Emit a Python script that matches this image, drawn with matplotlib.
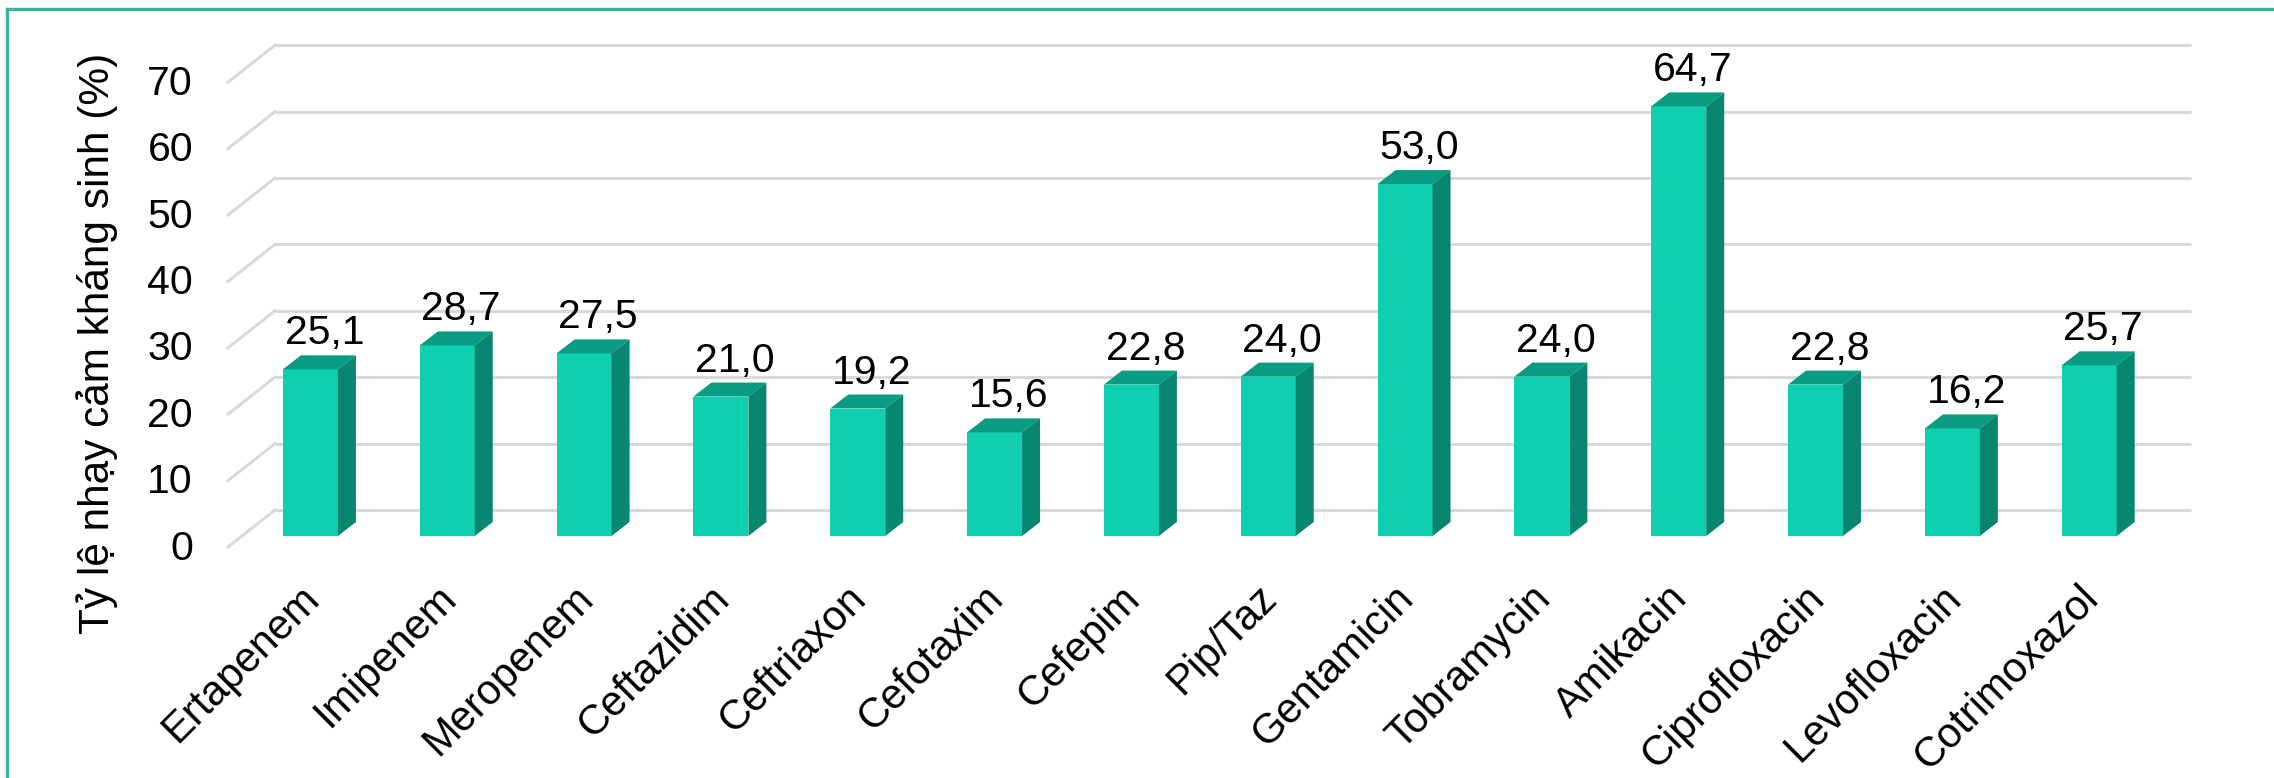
import matplotlib
matplotlib.use("Agg")
import matplotlib.pyplot as plt
from matplotlib.patches import Polygon
from matplotlib.lines import Line2D

plt.rcParams["font.family"] = ["Liberation Sans", "DejaVu Sans"]

# DATA

khang_sinh = [
    "Ertapenem", "Imipenem", "Meropenem", "Ceftazidim", "Ceftriaxon",
    "Cefotaxim", "Cefepim", "Pip/Taz", "Gentamicin", "Tobramycin",
    "Amikacin", "Ciprofloxacin", "Levofloxacin", "Cotrimoxazol",
]
ty_le = [25.1, 28.7, 27.5, 21.0, 19.2, 15.6, 22.8, 24.0, 53.0, 24.0,
         64.7, 22.8, 16.2, 25.7]
y_ticks = [0, 10, 20, 30, 40, 50, 60, 70]

# COLORES / ESTILO

c_frente = "#10cfb0"
c_techo = "#0a9c82"
c_lado = "#088670"
c_grid = "#d9d9d9"
c_borde = "#3db39e"

W, H = 2274, 778
fig = plt.figure(figsize=(W / 100, H / 100), dpi=100)

# plano frontal de las barras (pixeles)
x0_px, x1_px = 242, 2157.6
y0_px, y1_px = 536, 71.2
ax = fig.add_axes([x0_px / W, 1 - y0_px / H,
                   (x1_px - x0_px) / W, (y0_px - y1_px) / H])
ax.set_xlim(-0.5, len(khang_sinh) - 0.5)
ax.set_ylim(0, 70)
ax.axis("off")

# pixel -> unidades de datos
kx = len(khang_sinh) / (x1_px - x0_px)
ky = 70 / (y0_px - y1_px)

# desplazamientos 3D (pixeles)
fondo = (33, 26)
suelo = (-14, -11)
prof = (18, 14)

x_izq = -0.5
x_der = len(khang_sinh) - 0.5

# GRID (pared del fondo + lineas diagonales)
for v in y_ticks:
    ax.plot([x_izq + fondo[0] * kx, x_der + fondo[0] * kx],
            [v + fondo[1] * ky] * 2,
            color=c_grid, lw=2.2, zorder=1, clip_on=False,
            solid_capstyle="butt")
    ax.plot([x_izq + suelo[0] * kx, x_izq + fondo[0] * kx],
            [v + suelo[1] * ky, v + fondo[1] * ky],
            color=c_grid, lw=2.2, zorder=1, clip_on=False)
    ax.text(x_izq + (suelo[0] - 35) * kx, v - 23.5 * ky, f"{v}",
            ha="right", va="baseline", fontsize=29.5, color="black")

# BARRAS 3D
ancho = 0.402
posiciones = range(len(khang_sinh))
ax.bar(posiciones, ty_le, width=ancho, color=c_frente,
       zorder=3, clip_on=False)

for x, v in zip(posiciones, ty_le):
    xl = x - ancho / 2
    xr = x + ancho / 2
    dx = prof[0] * kx
    dy = prof[1] * ky
    techo = Polygon([(xl, v), (xr, v), (xr + dx, v + dy), (xl + dx, v + dy)],
                    closed=True, facecolor=c_techo, edgecolor="none",
                    zorder=3, clip_on=False)
    lado = Polygon([(xr, 0), (xr + dx, dy), (xr + dx, v + dy), (xr, v)],
                   closed=True, facecolor=c_lado, edgecolor="none",
                   zorder=3, clip_on=False)
    ax.add_patch(techo)
    ax.add_patch(lado)

    # valor encima
    ax.text(x + 14 * kx, v + 25 * ky, f"{v:.1f}".replace(".", ","),
            ha="center", va="baseline", fontsize=29.5, color="black")

    # etiqueta del eje x
    ax.text(x + 3 * kx, -56 * ky, khang_sinh[x], rotation=45,
            rotation_mode="anchor", ha="right", va="center",
            fontsize=30, color="black")

# TITULO EJE Y
fig.text(97 / W, 1 - 343.5 / H, "Tỷ lệ nhạy cảm kháng sinh (%)",
         rotation=90, ha="center", va="center", fontsize=30.5,
         color="black")

# BORDE (izquierda y arriba)
fig.add_artist(Line2D([7 / W, 7 / W], [0, 1 - 9 / H],
                      transform=fig.transFigure, color=c_borde, lw=2.4))
fig.add_artist(Line2D([7 / W, 1], [1 - 9 / H, 1 - 9 / H],
                      transform=fig.transFigure, color=c_borde, lw=2.4))

plt.savefig("out.png", dpi=100)
plt.close()
